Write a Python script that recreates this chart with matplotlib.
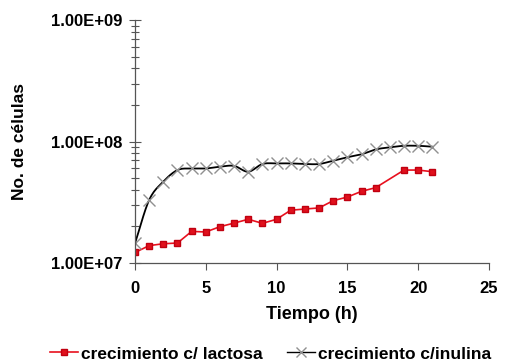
import numpy as np
import matplotlib.pyplot as plt
from matplotlib.ticker import LogLocator, FixedLocator

# Datos
horas_lactosa = [0, 1, 2, 3, 4, 5, 6, 7, 8, 9, 10, 11, 12, 13, 14, 15, 16, 17, 19, 20, 21]
celulas_lactosa = [1.22e7, 1.39e7, 1.44e7, 1.46e7, 1.82e7, 1.80e7, 1.99e7, 2.13e7, 2.29e7, 2.12e7,
                   2.29e7, 2.72e7, 2.78e7, 2.84e7, 3.26e7, 3.49e7, 3.89e7, 4.17e7, 5.82e7, 5.82e7, 5.64e7]

horas_inulina = list(range(22))
celulas_inulina = [1.45e7, 3.3e7, 4.67e7, 5.82e7, 6.0e7, 6.0e7, 6.2e7, 6.3e7, 5.64e7, 6.53e7, 6.6e7,
                   6.6e7, 6.53e7, 6.53e7, 6.95e7, 7.42e7, 7.85e7, 8.6e7, 8.96e7, 9.22e7, 9.22e7, 9.06e7]

x_ticks = [0, 5, 10, 15, 20, 25]
y_ticks = [1e7, 1e8, 1e9]
y_labels = ["1.00E+07", "1.00E+08", "1.00E+09"]


def suavizar(x, y, n=12):
    # curva Catmull-Rom en escala log (como la línea suavizada de Excel)
    x = np.asarray(x, float)
    y = np.log10(np.asarray(y, float))
    px = np.concatenate([[2 * x[0] - x[1]], x, [2 * x[-1] - x[-2]]])
    py = np.concatenate([[2 * y[0] - y[1]], y, [2 * y[-1] - y[-2]]])
    xs, ys = [], []
    t = np.linspace(0, 1, n, endpoint=False)
    for i in range(1, len(px) - 2):
        for p, out in ((px, xs), (py, ys)):
            p0, p1, p2, p3 = p[i - 1], p[i], p[i + 1], p[i + 2]
            out.extend(0.5 * ((2 * p1) + (-p0 + p2) * t + (2 * p0 - 5 * p1 + 4 * p2 - p3) * t ** 2
                              + (-p0 + 3 * p1 - 3 * p2 + p3) * t ** 3))
    xs.append(x[-1])
    ys.append(y[-1])
    return np.array(xs), 10 ** np.array(ys)


plt.rcParams['font.family'] = ['Liberation Sans', 'DejaVu Sans']
plt.rcParams['font.weight'] = 'bold'

fig = plt.figure(figsize=(5.18, 3.64), dpi=100)
ax = fig.add_axes([0.2606, 0.2775, 0.6834, 0.6675])

ax.plot(horas_lactosa, celulas_lactosa, color='#e8101e', lw=1.2, marker='s', ms=5,
        mfc='#e0101c', mec='#c00010', label='crecimiento c/ lactosa')
sx, sy = suavizar(horas_inulina, celulas_inulina)
ax.plot(sx, sy, color='black', lw=1.3)
ax.plot(horas_inulina, celulas_inulina, ls='none', marker='x', ms=8, mew=1.0, color='#909090')
ax.plot([], [], color='black', lw=1.0, marker='x', ms=7, mec='#909090', label='crecimiento c/inulina')

ax.set_yscale('log')
ax.set_ylim(1e7, 1e9)
ax.set_xlim(0, 25)
ax.set_xticks(x_ticks)
ax.set_xticklabels([str(v) for v in x_ticks], fontsize=12, fontweight='bold')
ax.yaxis.set_major_locator(FixedLocator(y_ticks))
ax.set_yticklabels(y_labels, fontsize=12, fontweight='bold')
ax.yaxis.set_minor_locator(LogLocator(base=10, subs=np.arange(2, 10)))
ax.yaxis.set_minor_formatter(plt.NullFormatter())
ax.tick_params(axis='y', which='major', direction='inout', length=8, width=0.8, colors='#555555',
               labelcolor='black', pad=5)
ax.tick_params(axis='y', which='minor', direction='inout', length=6, width=0.8, colors='#555555')
ax.tick_params(axis='x', which='major', direction='out', length=5, width=0.8, colors='#555555',
               labelcolor='black', pad=8)

for s in ['top', 'right']:
    ax.spines[s].set_visible(False)
for s in ['left', 'bottom']:
    ax.spines[s].set_color('#555555')
    ax.spines[s].set_linewidth(0.9)

ax.set_xlabel('Tiempo (h)', fontsize=13, fontweight='bold')
ax.xaxis.set_label_coords(0.5, -0.175)
ax.set_ylabel('No. de células', fontsize=12.5, fontweight='bold')
ax.yaxis.set_label_coords(-0.305, 0.5)

fig.legend(loc='center left', bbox_to_anchor=(50 / 518, 1 - 354 / 364), ncol=2, frameon=False,
           prop={'size': 12.5, 'weight': 'bold'}, handlelength=1.6, handletextpad=0.2,
           columnspacing=1.4, borderpad=0, borderaxespad=0)

fig.savefig('out.png', dpi=100)
